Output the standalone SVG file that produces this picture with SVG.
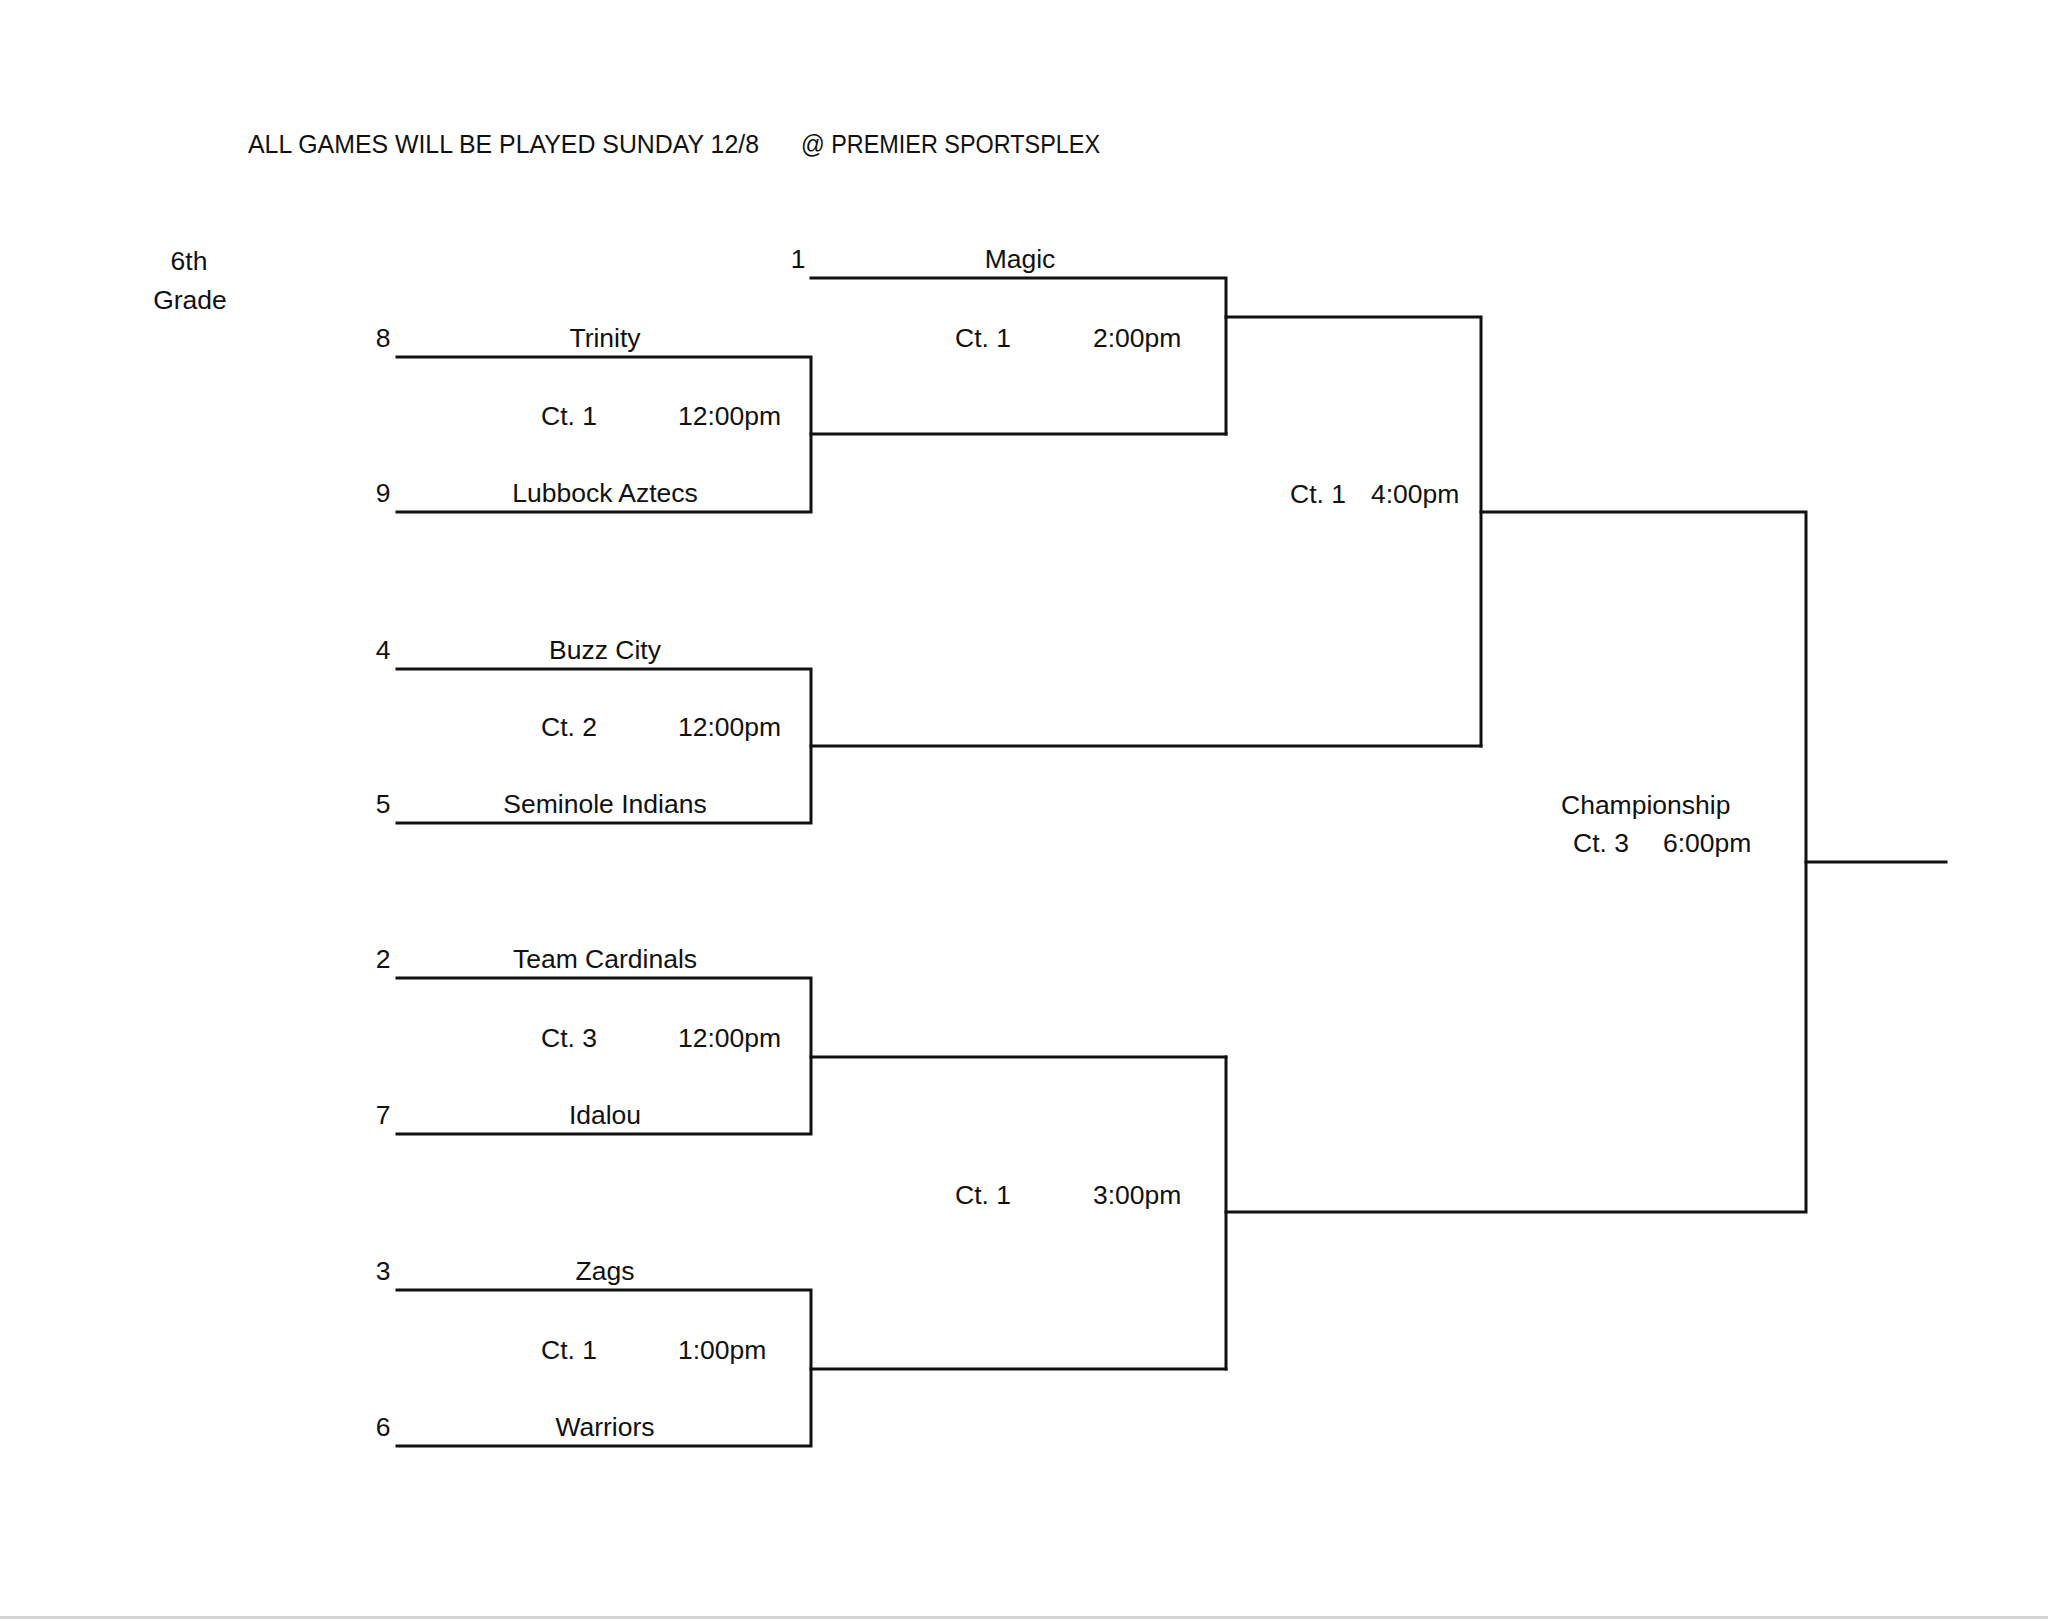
<svg xmlns="http://www.w3.org/2000/svg" width="2048" height="1619" viewBox="0 0 2048 1619">
<style>
text{font-family:"Liberation Sans",Arial,sans-serif;font-size:26.5px;fill:#111}
.t{font-size:25px}
.c{text-anchor:middle}
.ln{fill:none;stroke:#111;stroke-width:3;stroke-linecap:square;stroke-linejoin:miter}
</style>
<rect x="0" y="0" width="2048" height="1619" fill="#fff"/>
<rect x="0" y="1616" width="2048" height="3" fill="#d4d4d4"/>
<g id="title">
<text class="t" x="248" y="153" textLength="511" lengthAdjust="spacingAndGlyphs">ALL GAMES WILL BE PLAYED SUNDAY 12/8</text>
<text class="t" x="801" y="153" textLength="299" lengthAdjust="spacingAndGlyphs">@ PREMIER SPORTSPLEX</text>
</g>
<g id="division">
<text class="c" x="189" y="270">6th</text>
<text class="c" x="190" y="309">Grade</text>
</g>
<g id="connectors" class="ln">
<path d="M397 357H811V512H397"/>
<path d="M811 434H1226"/>
<path d="M397 669H811V823H397"/>
<path d="M811 746H1481"/>
<path d="M397 978H811V1134H397"/>
<path d="M811 1057H1226"/>
<path d="M397 1290H811V1446H397"/>
<path d="M811 1369H1226"/>
<path d="M811 278H1226V434"/>
<path d="M1226 317H1481V746"/>
<path d="M1226 1057V1369"/>
<path d="M1481 512H1806V1212H1226"/>
<path d="M1806 862H1946"/>
</g>
<g id="team-magic"><text x="798" y="268" class="c">1</text><text class="c" x="1020" y="268">Magic</text></g>
<g id="team-trinity"><text class="c" x="383" y="347">8</text><text class="c" x="605" y="347">Trinity</text></g>
<g id="team-lubbock-aztecs"><text class="c" x="383" y="502">9</text><text class="c" x="605" y="502">Lubbock Aztecs</text></g>
<g id="team-buzz-city"><text class="c" x="383" y="659">4</text><text class="c" x="605" y="659">Buzz City</text></g>
<g id="team-seminole-indians"><text class="c" x="383" y="813">5</text><text class="c" x="605" y="813">Seminole Indians</text></g>
<g id="team-team-cardinals"><text class="c" x="383" y="968">2</text><text class="c" x="605" y="968">Team Cardinals</text></g>
<g id="team-idalou"><text class="c" x="383" y="1124">7</text><text class="c" x="605" y="1124">Idalou</text></g>
<g id="team-zags"><text class="c" x="383" y="1280">3</text><text class="c" x="605" y="1280">Zags</text></g>
<g id="team-warriors"><text class="c" x="383" y="1436">6</text><text class="c" x="605" y="1436">Warriors</text></g>
<g id="game-r1-1"><text x="541" y="425">Ct. 1</text><text x="678" y="425">12:00pm</text></g>
<g id="game-r1-2"><text x="541" y="736">Ct. 2</text><text x="678" y="736">12:00pm</text></g>
<g id="game-r1-3"><text x="541" y="1047">Ct. 3</text><text x="678" y="1047">12:00pm</text></g>
<g id="game-r1-4"><text x="541" y="1359">Ct. 1</text><text x="678" y="1359">1:00pm</text></g>
<g id="game-r2-1"><text x="955" y="347">Ct. 1</text><text x="1093" y="347">2:00pm</text></g>
<g id="game-r2-2"><text x="955" y="1204">Ct. 1</text><text x="1093" y="1204">3:00pm</text></g>
<g id="game-semi"><text x="1290" y="503">Ct. 1</text><text x="1371" y="503">4:00pm</text></g>
<g id="game-final"><text x="1561" y="814">Championship</text><text x="1573" y="852">Ct. 3</text><text x="1663" y="852">6:00pm</text></g>
</svg>
